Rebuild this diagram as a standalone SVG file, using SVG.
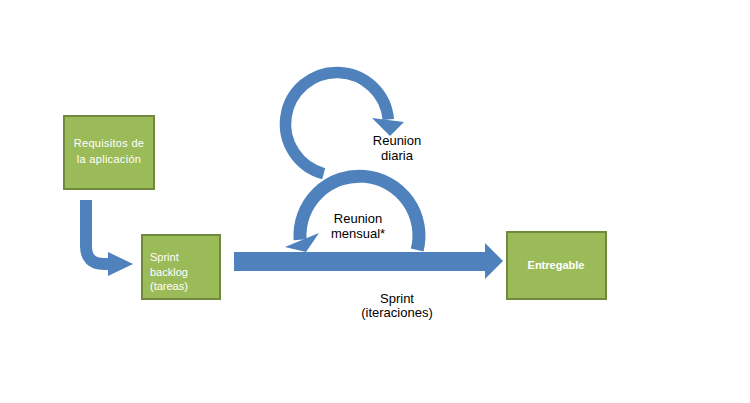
<svg xmlns="http://www.w3.org/2000/svg" width="750" height="403" viewBox="0 0 750 403">
<style>
.box{fill:#9BBB59;stroke:#71893F;stroke-width:2}
.wt{fill:#FFFFFF;font-family:"Liberation Sans",Arial,sans-serif;font-size:11px}
.bt{fill:#000000;font-family:"Liberation Sans",Arial,sans-serif;font-size:13px;text-anchor:middle}
.band{fill:none;stroke:#4F81BD}
.head{fill:#4F81BD}
</style>
<rect width="750" height="403" fill="#FFFFFF"/>
<g id="connectors">
<g id="bent-arrow">
<path class="band" stroke-width="12" d="M86,200 V246 Q86,264 104,264 H109"/>
<polygon class="head" points="108,252 133,264 108,276"/>
</g>
<g id="sprint-arrow">
<rect x="234" y="252" width="252" height="19" fill="#4F81BD"/>
<polygon class="head" points="485,243 503,261 485,279"/>
</g>
<g id="daily-loop">
<path class="band" stroke-width="11.5" d="M323.7,173.7 A51.5,51.5 0 1 1 388.3,119.5"/>
<polygon class="head" points="372,118 404,122 390,136"/>
</g>
<g id="monthly-loop">
<path class="band" stroke-width="13" d="M417.2,250 A59.5,59.5 0 1 0 300.1,239.7"/>
<polygon class="head" points="285,247 319,233 306,252"/>
</g>
</g>
<g id="requisitos">
<rect class="box" x="64" y="116" width="90" height="73"/>
<text class="wt" text-anchor="middle" x="109" y="147" letter-spacing="0.3">Requisitos de</text>
<text class="wt" text-anchor="middle" x="109" y="163" letter-spacing="0.3">la aplicación</text>
</g>
<g id="sprint-backlog">
<rect class="box" x="142" y="235" width="78" height="64"/>
<text class="wt" x="150" y="261">Sprint</text>
<text class="wt" x="150" y="276">backlog</text>
<text class="wt" x="150" y="290">(tareas)</text>
</g>
<g id="entregable">
<rect class="box" x="507" y="232" width="99" height="67"/>
<text class="wt" text-anchor="middle" x="556" y="269" font-size="12" font-weight="bold">Entregable</text>
</g>
<g id="labels">
<text class="bt" x="397" y="145">Reunion</text>
<text class="bt" x="397" y="160">diaria</text>
<text class="bt" x="358" y="223">Reunion</text>
<text class="bt" x="358" y="238">mensual*</text>
<text class="bt" x="397" y="303">Sprint</text>
<text class="bt" x="397" y="317">(iteraciones)</text>
</g>
</svg>
